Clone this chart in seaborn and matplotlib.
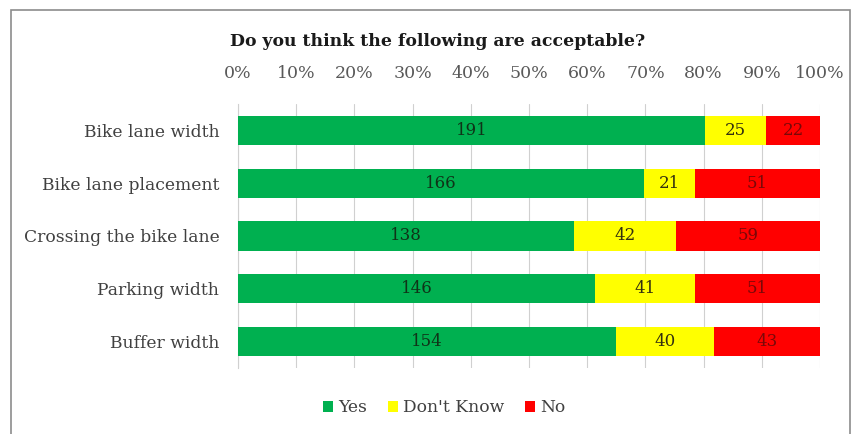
import matplotlib
matplotlib.use("Agg")
import matplotlib.pyplot as plt
from matplotlib.patches import Rectangle, Patch
import seaborn as sns
import pandas as pd
import numpy as np

categories = ["Bike lane width", "Bike lane placement", "Crossing the bike lane",
              "Parking width", "Buffer width"]
yes = [191, 166, 138, 146, 154]
dont_know = [25, 21, 42, 41, 40]
no = [22, 51, 59, 51, 43]
series_names = ["Yes", "Don't Know", "No"]
colors = ["#00B050", "#FFFF00", "#FF0000"]
label_colors = ["#0f3318", "#333010", "#7a0808"]
tick_labels = [f"{p}%" for p in range(0, 101, 10)]

sns.set_theme(style="white")
plt.rcParams["font.family"] = ["DejaVu Serif"]

counts = np.array([yes, dont_know, no], dtype=float)
totals = counts.sum(axis=0)
shares = counts / totals * 100
cum = np.cumsum(shares, axis=0)

df = pd.DataFrame({
    "category": categories,
    "yes_end": cum[0],
    "dk_end": cum[1],
    "no_end": cum[2],
})

fig = plt.figure(figsize=(8.57, 4.34), dpi=100)
ax = fig.add_axes([238 / 857, 1 - 368 / 434, (820 - 238) / 857, (368 - 104) / 434])

# stacked bars drawn back-to-front as cumulative lengths
for col, c in zip(["no_end", "dk_end", "yes_end"], colors[::-1]):
    sns.barplot(data=df, x=col, y="category", orient="h", color=c,
                width=0.55, ax=ax, saturation=1, edgecolor="none", zorder=3)

# value labels centred in each segment
starts = np.vstack([np.zeros(len(categories)), cum[:-1]])
for s in range(3):
    for i in range(len(categories)):
        mid = starts[s, i] + shares[s, i] / 2
        ax.text(mid, i, f"{int(counts[s, i])}", ha="center", va="center",
                fontsize=12, color=label_colors[s], zorder=4)

ax.set_xlim(0, 100)
ax.set_ylim(len(categories) - 0.5, -0.5)
ax.set_xticks(np.arange(0, 101, 10))
ax.set_xticklabels(tick_labels, fontsize=12.5, color="#595959")
ax.xaxis.tick_top()
ax.tick_params(axis="x", length=0, pad=15.5)
ax.tick_params(axis="y", length=0, pad=13.5, labelsize=12.3, labelcolor="#404040")
ax.set_xlabel("")
ax.set_ylabel("")
ax.grid(axis="x", color="#d0d0d0", linewidth=0.8, zorder=0)
ax.set_axisbelow(True)
for side in ["top", "right", "bottom"]:
    ax.spines[side].set_visible(False)
ax.spines["left"].set_color("#d0d0d0")
ax.spines["left"].set_linewidth(0.8)

fig.text(438 / 857, 1 - 42 / 434, "Do you think the following are acceptable?",
         ha="center", va="center", fontsize=12.4, fontweight="bold", color="#1a1a1a")

handles = [Patch(facecolor=c, edgecolor="none") for c in colors]
fig.legend(handles, series_names, loc="center", bbox_to_anchor=(444 / 857, 1 - 408 / 434),
           ncol=3, frameon=False, fontsize=12.3, handlelength=0.6, handleheight=0.6,
           handletextpad=0.3, columnspacing=1.2, labelcolor="#404040")

fig.patches.append(Rectangle((11 / 857, -0.01), (850 - 11) / 857, 1 - 10 / 434 + 0.01,
                             transform=fig.transFigure, fill=False,
                             edgecolor="#8c8c8c", linewidth=1.2))

fig.savefig("out.png", dpi=100)
